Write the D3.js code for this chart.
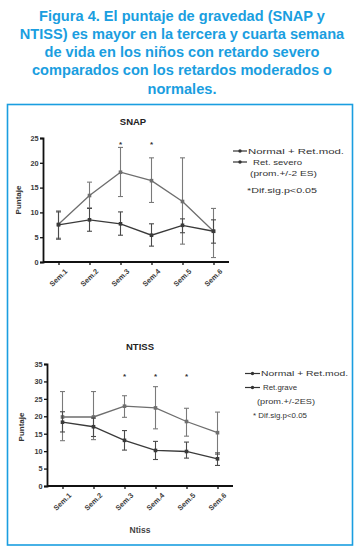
<!DOCTYPE html>
<html lang="es">
<head>
<meta charset="UTF-8" />
<script src="https://d3js.org/d3.v7.min.js"></script>
<style>
  body { margin: 0; background: #fff; }
  svg { display: block; font-family: "Liberation Sans", Arial, sans-serif; }
</style>
</head>
<body>
<svg id="fig" width="364" height="552"></svg>
<script>
// weeks
var weeks = ["Sem.1", "Sem.2", "Sem.3", "Sem.4", "Sem.5", "Sem.6"];

// SNAP values (mean, lower, upper)
var snapNormal   = [7.5, 8.5, 7.7, 5.4, 7.4, 6.2];
var snapNormalLo = [4.6, 6.2, 5.4, 3.2, 5.9, 3.8];
var snapNormalHi = [10.1, 10.8, 10.1, 7.7, 8.7, 8.5];
var snapSevero   = [7.6, 13.4, 18.1, 16.4, 12.2, 6.2];
var snapSeveroLo = [4.8, 10.9, 13.2, 12.0, 3.6, 0.9];
var snapSeveroHi = [10.3, 16.1, 23.1, 21.0, 21.0, 10.8];
var snapSig = [{ week: "Sem.3", y: 24 }, { week: "Sem.4", y: 24 }];
var snapTicks = [0, 5, 10, 15, 20, 25];

// NTISS values
var ntissNormal   = [18.3, 17.0, 13.1, 10.2, 9.9, 7.8];
var ntissNormalLo = [15.5, 14.2, 10.3, 7.6, 8.0, 5.9];
var ntissNormalHi = [21.3, 19.5, 15.9, 12.8, 12.6, 9.5];
var ntissGrave    = [19.8, 19.8, 22.9, 22.4, 18.5, 15.3];
var ntissGraveLo  = [13.0, 13.3, 19.7, 16.4, 14.3, 9.1];
var ntissGraveHi  = [27.1, 27.1, 25.9, 28.5, 22.3, 21.2];
var ntissSig = [{ week: "Sem.3", y: 31.8 }, { week: "Sem.4", y: 31.8 }, { week: "Sem.5", y: 31.8 }];
var ntissTicks = [0, 5, 10, 15, 20, 25, 30, 35];

var titleLines = [
  "Figura 4. El puntaje de gravedad (SNAP y",
  "NTISS) es mayor en la tercera y cuarta semana",
  "de vida en los niños con retardo severo",
  "comparados con los retardos moderados o",
  "normales."
];

var svg = d3.select("#fig");
var blue = "#1a9ee0";

// caption
svg.append("g").selectAll("text")
  .data(titleLines)
  .enter()
  .append("text")
  .attr("x", 182)
  .attr("y", function (d, i) { return 20.5 + i * 18.3; })
  .attr("text-anchor", "middle")
  .attr("font-size", "14.6px")
  .attr("font-weight", "bold")
  .attr("fill", blue)
  .text(function (d) { return d; });

// frame
svg.append("rect")
  .attr("x", 7.5).attr("y", 104.5)
  .attr("width", 345).attr("height", 440.5)
  .attr("fill", "none")
  .attr("stroke", blue)
  .attr("stroke-width", 1.6);

function drawPanel(opt) {
  var x = d3.scalePoint().domain(weeks).range([opt.x0, opt.x1]).padding(0.5);
  var y = d3.scaleLinear().domain([0, opt.max]).range([opt.yb, opt.yt]);
  var g = svg.append("g");

  // title
  g.append("text")
    .attr("x", opt.tx).attr("y", opt.ty)
    .attr("text-anchor", "middle")
    .attr("font-size", "9.5px").attr("font-weight", "bold")
    .attr("fill", "#222")
    .text(opt.title);

  // y axis
  var ya = g.append("g")
    .attr("transform", "translate(" + opt.x0 + ",0)")
    .call(d3.axisLeft(y).tickValues(opt.ticks).tickSize(3).tickPadding(1.5));
  // x axis
  var xa = g.append("g")
    .attr("transform", "translate(0," + opt.yb + ")")
    .call(d3.axisBottom(x).tickSize(3).tickSizeOuter(0).tickPadding(3));
  xa.select(".domain").attr("d", "M" + opt.x0 + ",0H" + opt.x1);

  [ya, xa].forEach(function (a) {
    a.select(".domain").attr("stroke", "#111").attr("stroke-width", 1.8);
    a.selectAll(".tick line").attr("stroke", "#111").attr("stroke-width", 1.3);
    a.selectAll("text")
      .attr("font-family", "Liberation Sans, Arial, sans-serif")
      .attr("font-size", "7.3px").attr("font-weight", "bold")
      .attr("fill", "#3a3a3a");
  });
  xa.selectAll(".tick text")
    .attr("text-anchor", "end")
    .attr("dy", "0.3em")
    .attr("transform", "translate(3,4) rotate(-45)");

  // y label
  g.append("text")
    .attr("transform", "translate(" + opt.lx + "," + opt.ly + ") rotate(-90)")
    .attr("text-anchor", "middle")
    .attr("font-size", "8px").attr("font-weight", "bold")
    .attr("fill", "#333")
    .text("Puntaje");

  function series(vals, lo, hi, color, lineColor) {
    var rows = weeks.map(function (w, i) {
      return { w: w, v: vals[i], lo: lo[i], hi: hi[i] };
    });
    var eb = g.append("g");
    rows.forEach(function (d) {
      var cx = x(d.w);
      eb.append("line")
        .attr("x1", cx).attr("x2", cx)
        .attr("y1", y(d.lo)).attr("y2", y(d.hi))
        .attr("stroke", color).attr("stroke-width", 1.1);
      [d.lo, d.hi].forEach(function (e) {
        eb.append("line")
          .attr("x1", cx - 2.5).attr("x2", cx + 2.5)
          .attr("y1", y(e)).attr("y2", y(e))
          .attr("stroke", color).attr("stroke-width", 1.1);
      });
    });
    g.append("path")
      .datum(rows)
      .attr("fill", "none")
      .attr("stroke", lineColor)
      .attr("stroke-width", 1.3)
      .attr("d", d3.line()
        .x(function (d) { return x(d.w); })
        .y(function (d) { return y(d.v); }));
    g.append("g").selectAll("rect")
      .data(rows)
      .enter()
      .append("rect")
      .attr("x", function (d) { return x(d.w) - 1.8; })
      .attr("y", function (d) { return y(d.v) - 1.8; })
      .attr("width", 3.6).attr("height", 3.6)
      .attr("fill", lineColor);
  }

  series(opt.sev, opt.sevLo, opt.sevHi, "#7a7a7a", "#6e6e6e");
  series(opt.nor, opt.norLo, opt.norHi, "#4a4a4a", "#3a3a3a");

  // significance marks
  g.append("g").selectAll("text")
    .data(opt.sig)
    .enter()
    .append("text")
    .attr("x", function (d) { return x(d.week); })
    .attr("y", function (d) { return y(d.y) + 4; })
    .attr("text-anchor", "middle")
    .attr("font-size", "8px").attr("font-weight", "bold")
    .attr("fill", "#333")
    .text("*");

  // x label
  if (opt.xlabel) {
    g.append("text")
      .attr("x", opt.xlx).attr("y", opt.xly)
      .attr("text-anchor", "middle")
      .attr("font-size", "8.5px").attr("font-weight", "bold")
      .attr("fill", "#444")
      .text(opt.xlabel);
  }

  // legend (text in the original is stretched sideways)
  var lg = g.append("g").attr("font-size", "7.3px").attr("fill", "#333");
  opt.legend.forEach(function (it, i) {
    var ly = opt.legY[i];
    if (it.line) {
      lg.append("line")
        .attr("x1", opt.legX).attr("x2", opt.legX + opt.lineW)
        .attr("y1", ly - 2.5).attr("y2", ly - 2.5)
        .attr("stroke", it.line).attr("stroke-width", 1.2);
      lg.append("circle")
        .attr("cx", opt.legX + opt.lineW / 2).attr("cy", ly - 2.5)
        .attr("r", 1.7)
        .attr("fill", it.line);
    }
    lg.append("text")
      .attr("x", it.x)
      .attr("y", ly)
      .attr("fill", "#333")
      .attr("textLength", it.w)
      .attr("lengthAdjust", "spacingAndGlyphs")
      .text(it.text);
  });
}

drawPanel({
  title: "SNAP", tx: 133, ty: 125,
  x0: 43, x1: 229, yb: 262, yt: 138, max: 25, ticks: snapTicks,
  lx: 21, ly: 200,
  nor: snapNormal, norLo: snapNormalLo, norHi: snapNormalHi,
  sev: snapSevero, sevLo: snapSeveroLo, sevHi: snapSeveroHi,
  sig: snapSig,
  legX: 233, lineW: 14, legY: [153.5, 164.5, 176, 193],
  legend: [
    { text: "Normal + Ret.mod.", line: "#333", x: 248, w: 96 },
    { text: "Ret. severo", line: "#333", x: 253, w: 49 },
    { text: "(prom.+/-2 ES)", x: 250, w: 67 },
    { text: "*Dif.sig.p<0.05", x: 247, w: 70 }
  ]
});

drawPanel({
  title: "NTISS", tx: 140, ty: 350,
  x0: 47, x1: 233, yb: 486, yt: 364, max: 35, ticks: ntissTicks,
  lx: 24, ly: 427,
  nor: ntissNormal, norLo: ntissNormalLo, norHi: ntissNormalHi,
  sev: ntissGrave, sevLo: ntissGraveLo, sevHi: ntissGraveHi,
  sig: ntissSig,
  xlabel: "Ntiss", xlx: 140, xly: 533,
  legX: 245, lineW: 15, legY: [376, 390, 404, 418],
  legend: [
    { text: "Normal + Ret.mod.", line: "#333", x: 261, w: 87 },
    { text: "Ret.grave", line: "#333", x: 263, w: 34 },
    { text: "(prom.+/-2ES)", x: 257, w: 58 },
    { text: "* Dif.sig.p<0.05", x: 253, w: 54 }
  ]
});
</script>
</body>
</html>
